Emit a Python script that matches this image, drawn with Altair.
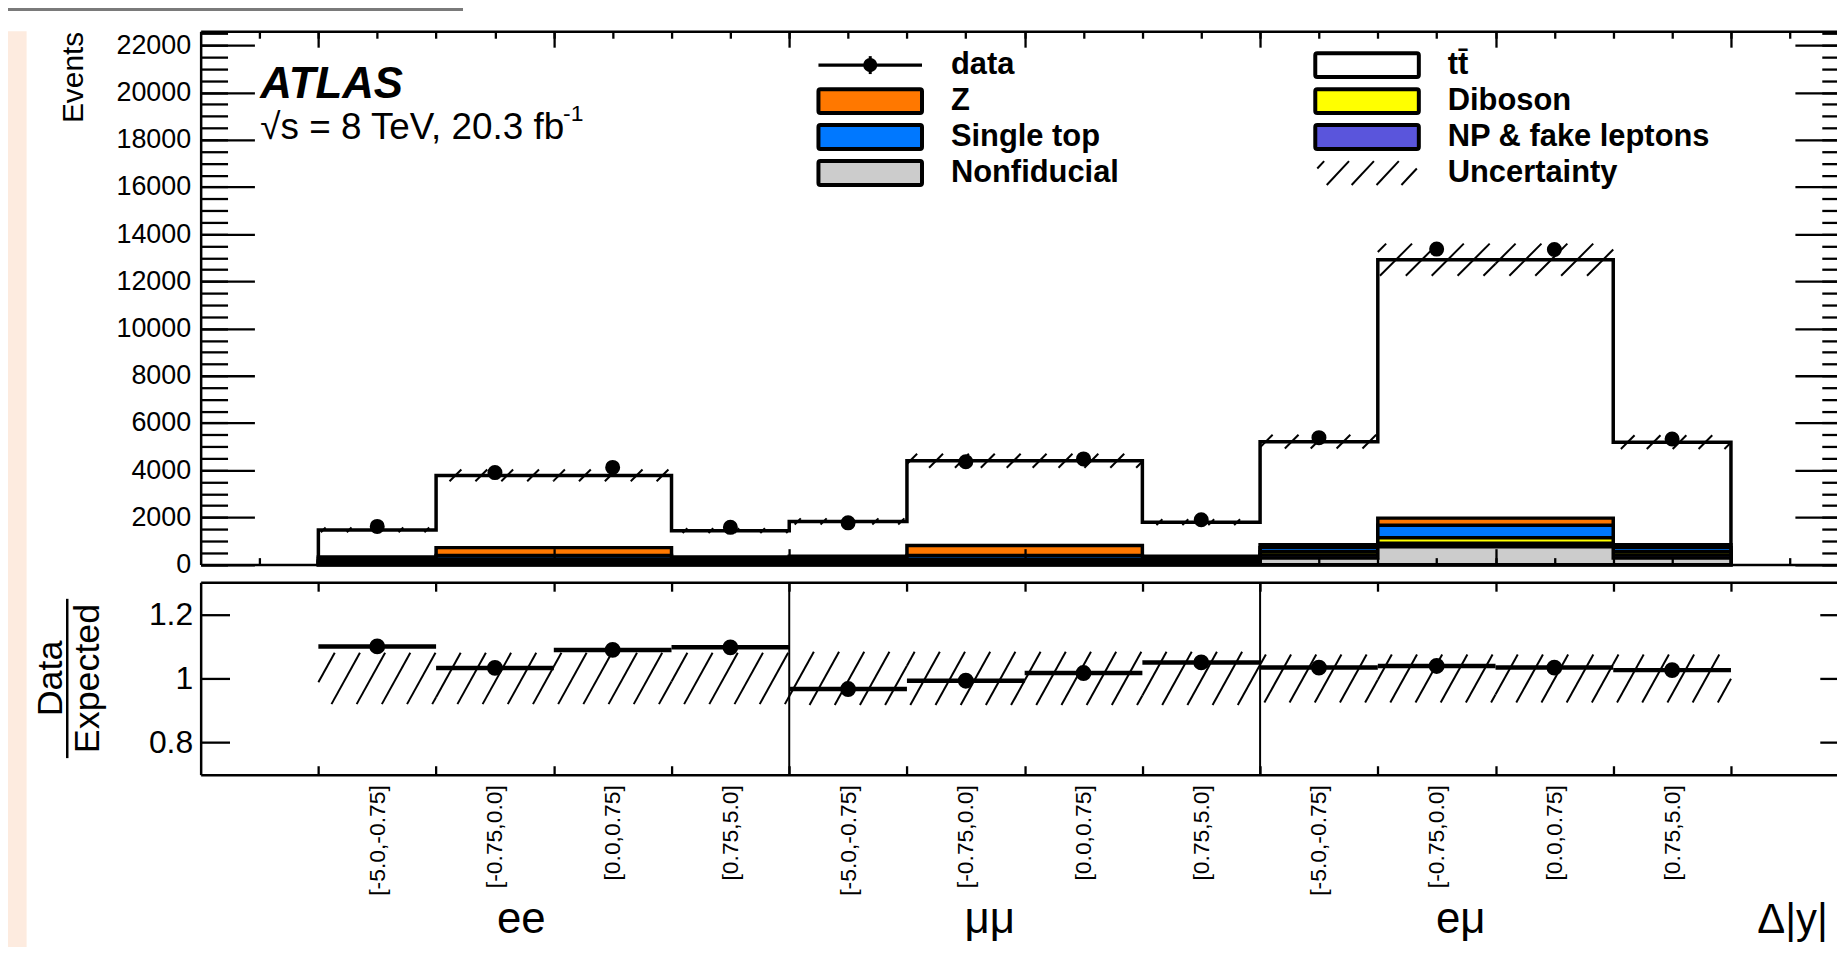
import math
import altair as alt
import numpy as np
import pandas as pd

# ---------------- values ----------------
bin_labels = ["[-5.0,-0.75]", "[-0.75,0.0]", "[0.0,0.75]", "[0.75,5.0]",
              "[-5.0,-0.75]", "[-0.75,0.0]", "[0.0,0.75]", "[0.75,5.0]",
              "[-5.0,-0.75]", "[-0.75,0.0]", "[0.0,0.75]", "[0.75,5.0]"]
channel_names = ["ee", "μμ", "eμ"]
bin_edges = [1, 2, 3, 4, 5, 6, 7, 8, 9, 10, 11, 12, 13]

data_events = [1620, 3900, 4120, 1580, 1770, 4360, 4480, 1900, 5380, 13370, 13350, 5320]
ttbar       = [1150, 3060, 3060, 1120, 1470, 3590, 3590, 1440, 4370, 10950, 10950, 4350]
z_jets      = [60, 330, 330, 60, 90, 420, 420, 90, 120, 300, 300, 120]
single_top  = [100, 150, 150, 100, 110, 160, 160, 110, 170, 530, 530, 170]
diboson     = [40, 50, 50, 40, 40, 50, 50, 40, 140, 230, 230, 140]
np_fake     = [40, 60, 60, 40, 30, 40, 40, 30, 130, 150, 150, 130]
nonfid      = [80, 130, 130, 80, 90, 140, 140, 90, 280, 760, 760, 280]
mc_unc      = [100, 250, 250, 100, 130, 295, 295, 125, 290, 680, 680, 290]
ratio       = [1.100, 1.033, 1.089, 1.097, 0.967, 0.993, 1.017, 1.050, 1.034, 1.039, 1.034, 1.026]
ratio_unc   = [0.080, 0.080, 0.080, 0.080, 0.083, 0.083, 0.083, 0.083, 0.075, 0.075, 0.075, 0.075]

events_major = [0, 2000, 4000, 6000, 8000, 10000, 12000, 14000, 16000, 18000, 20000, 22000]
events_minor = list(range(0, 22501, 500))
ratio_ticks = [0.8, 1.0, 1.2]
top_major_x = [1, 3, 5, 7, 9, 11, 13]
top_minor_x = [0.5 * k for k in range(1, 28)]

legend_entries = [  # label, fill colour, column, row
    ("data", None, 0, 0), ("Z", "#FF7800", 0, 1), ("Single top", "#0078FF", 0, 2),
    ("Nonfiducial", "#CCCCCC", 0, 3), ("t\u0074\u0304", "#FFFFFF", 1, 0),
    ("Diboson", "#FFFF00", 1, 1), ("NP & fake leptons", "#5A55DC", 1, 2),
    ("Uncertainty", None, 1, 3),
]

# ---------------- layout ----------------
FONT = "Liberation Sans"
PLOT_W, PLOT_H = 1643.5, 746.7
PAD = {"left": 193.5, "top": 21.3, "right": 0, "bottom": 171}
PX_PER_BIN = 118.23
X_MAX = PLOT_W / PX_PER_BIN
TOP_MAX = 22600
TOP_Y0 = 535.7
R_MIN, R_MAX = 0.7, 1.3
R_TOP, R_BOT = 553.4, 746.7
GROUP_POS = [2.72, 6.70, 10.70]

xs = alt.Scale(domain=[0, X_MAX], nice=False, zero=False)
ys_top = alt.Scale(domain=[0, TOP_MAX], range=[TOP_Y0, 0], nice=False, zero=False)
ys_rat = alt.Scale(domain=[R_MIN, R_MAX], range=[R_BOT, R_TOP], nice=False, zero=False)

def top_px(v):
    return TOP_Y0 * (1 - v / TOP_MAX)

def top_val(p):
    return TOP_MAX * (1 - p / TOP_Y0)

def rat_px(r):
    return R_BOT - (r - R_MIN) / (R_MAX - R_MIN) * (R_BOT - R_TOP)

def rat_val(p):
    return R_MIN + (R_BOT - p) / (R_BOT - R_TOP) * (R_MAX - R_MIN)

def hatch(rects, angle, spacing):
    """rects in pixel space (xa, xb, ya, yb); returns '/' segments clipped to them."""
    th = math.radians(angle)
    s, c = math.sin(th), math.cos(th)
    step = spacing * s
    segs = []
    for xa, xb, ya, yb in rects:
        k0 = math.ceil((xa * s + ya * c) / step)
        k1 = math.floor((xb * s + yb * c) / step)
        for k in range(k0, k1 + 1):
            cc = k * step
            lo = max(xa, (cc - yb * c) / s)
            hi = min(xb, (cc - ya * c) / s)
            if hi - lo > 0.4:
                segs.append((lo, (cc - lo * s) / c, hi, (cc - hi * s) / c))
    return segs

dummy = pd.DataFrame({"v": [0.0]})
layers = []

# page decoration at the left edge
layers.append(alt.Chart(dummy).mark_rect(color="#FDEBDF").encode(
    x=alt.value(-201.5), x2=alt.value(-174.8), y=alt.value(0), y2=alt.value(930)))
layers.append(alt.Chart(dummy).mark_rule(color="#7A7A7A", strokeWidth=3).encode(
    x=alt.value(-201.5), x2=alt.value(263.5), y=alt.value(-21.8)))

# ---------------- stacked histograms ----------------
stack = [nonfid, np_fake, diboson, single_top, z_jets, ttbar]
stack_colors = ["#CCCCCC", "#5A55DC", "#FFFF00", "#0078FF", "#FF7800", "#FFFFFF"]
cum = np.cumsum(np.array(stack, dtype=float), axis=0)
nb = len(ttbar)
for idx in reversed(range(len(stack))):
    df = pd.DataFrame({"x": bin_edges,
                       "y": [cum[idx][min(i, nb - 1)] for i in range(len(bin_edges))]})
    layers.append(alt.Chart(df).mark_area(
        interpolate="step-after", fill=stack_colors[idx], fillOpacity=1, opacity=1,
        stroke="black", strokeWidth=3.5, strokeJoin="miter").encode(
        x=alt.X("x:Q", scale=xs, axis=None),
        y=alt.Y("y:Q", scale=ys_top, axis=None, stack=None)))

total = cum[-1]
centers = [(bin_edges[i] + bin_edges[i + 1]) / 2 for i in range(nb)]

# uncertainty hatch, top panel
rects = []
for i in range(nb):
    rects.append((bin_edges[i] * PX_PER_BIN, bin_edges[i + 1] * PX_PER_BIN,
                  top_px(total[i] + mc_unc[i]), top_px(total[i] - mc_unc[i])))
segs = hatch(rects, 45, 26)
hdf = pd.DataFrame([{"x": a / PX_PER_BIN, "y": top_val(b), "x2": c / PX_PER_BIN, "y2": top_val(d)}
                    for a, b, c, d in segs])
layers.append(alt.Chart(hdf).mark_rule(color="black", strokeWidth=2).encode(
    x=alt.X("x:Q", scale=xs, axis=None), x2="x2:Q",
    y=alt.Y("y:Q", scale=ys_top, axis=None), y2="y2:Q"))

# data points, top panel
ddf = pd.DataFrame({"x": centers, "y": data_events})
layers.append(alt.Chart(ddf).mark_circle(size=227, color="black", opacity=1).encode(
    x=alt.X("x:Q", scale=xs, axis=None), y=alt.Y("y:Q", scale=ys_top, axis=None)))

# ---------------- ratio panel ----------------
rects = []
for i in range(nb):
    rects.append((bin_edges[i] * PX_PER_BIN, bin_edges[i + 1] * PX_PER_BIN,
                  rat_px(1 + ratio_unc[i]), rat_px(1 - ratio_unc[i])))
segs = hatch(rects, 61, 25.3)
rhdf = pd.DataFrame([{"x": a / PX_PER_BIN, "y": rat_val(b), "x2": c / PX_PER_BIN, "y2": rat_val(d)}
                     for a, b, c, d in segs])
layers.append(alt.Chart(rhdf).mark_rule(color="black", strokeWidth=2).encode(
    x=alt.X("x:Q", scale=xs, axis=None), x2="x2:Q",
    y=alt.Y("y:Q", scale=ys_rat, axis=None), y2="y2:Q"))

sep_df = pd.DataFrame({"x": [bin_edges[4], bin_edges[8]], "y": [R_MIN, R_MIN], "y2": [R_MAX, R_MAX]})
layers.append(alt.Chart(sep_df).mark_rule(color="black", strokeWidth=2).encode(
    x=alt.X("x:Q", scale=xs, axis=None), y=alt.Y("y:Q", scale=ys_rat, axis=None), y2="y2:Q"))

rdf = pd.DataFrame({"lo": bin_edges[:-1], "hi": bin_edges[1:], "c": centers, "r": ratio})
layers.append(alt.Chart(rdf).mark_rule(color="black", strokeWidth=4.5).encode(
    x=alt.X("lo:Q", scale=xs, axis=None), x2="hi:Q", y=alt.Y("r:Q", scale=ys_rat, axis=None)))
layers.append(alt.Chart(rdf).mark_circle(size=254, color="black", opacity=1).encode(
    x=alt.X("c:Q", scale=xs, axis=None), y=alt.Y("r:Q", scale=ys_rat, axis=None)))

# ---------------- axes ----------------
BASE = dict(grid=False, domain=False, ticks=False, labels=False, title=None, zindex=1,
            tickColor="black", tickWidth=2.3, domainColor="black", domainWidth=2.5,
            labelColor="black", labelFont=FONT)

def xaxis(**kw):
    a = dict(BASE); a.update(kw)
    return alt.Chart(dummy).mark_point(opacity=0).encode(
        x=alt.X("v:Q", scale=xs, axis=alt.Axis(**a)))

def yaxis(scale, val, **kw):
    a = dict(BASE); a.update(kw)
    return alt.Chart(pd.DataFrame({"v": [val]})).mark_point(opacity=0).encode(
        y=alt.Y("v:Q", scale=scale, axis=alt.Axis(**a)))

H = PLOT_H
# top panel: top frame + inward ticks
layers.append(xaxis(orient="top", offset=0, domain=True))
layers.append(xaxis(orient="top", offset=-16, ticks=True, tickSize=16, values=top_major_x))
layers.append(xaxis(orient="top", offset=-7, ticks=True, tickSize=7, values=top_minor_x))
# top panel: bottom frame + inward ticks
layers.append(xaxis(orient="bottom", offset=TOP_Y0 - H, domain=True))
layers.append(xaxis(orient="bottom", offset=TOP_Y0 - 16 - H, ticks=True, tickSize=16, values=top_major_x))
layers.append(xaxis(orient="bottom", offset=TOP_Y0 - 7 - H, ticks=True, tickSize=7, values=top_minor_x))
# ratio panel frames + ticks
layers.append(xaxis(orient="top", offset=-R_TOP, domain=True))
layers.append(xaxis(orient="top", offset=-(R_TOP + 9), ticks=True, tickSize=9, values=bin_edges))
layers.append(xaxis(orient="bottom", offset=0, domain=True))
layers.append(xaxis(orient="bottom", offset=-9, ticks=True, tickSize=9, values=bin_edges))

# bin labels
lab_expr = ""
for i in range(nb - 1):
    lab_expr += f"datum.value < {bin_edges[i + 1]} ? '{bin_labels[i]}' : "
lab_expr += f"'{bin_labels[-1]}'"
layers.append(xaxis(orient="bottom", offset=0, labels=True, values=centers, labelExpr=lab_expr,
                    labelAngle=270, labelAlign="right", labelBaseline="middle", tickSize=0,
                    labelPadding=10, labelFontSize=23, labelOverlap=False, labelFlush=False))
# channel labels and axis title
GROUP_PAD = 158
grp_expr = (f"datum.value < {bin_edges[4]} ? '{channel_names[0]}' : "
            f"datum.value < {bin_edges[8]} ? '{channel_names[1]}' : '{channel_names[2]}'")
layers.append(xaxis(orient="bottom", offset=0, labels=True, values=GROUP_POS, labelExpr=grp_expr,
                    labelAngle=0, labelAlign="center", labelBaseline="alphabetic", tickSize=0,
                    labelPadding=GROUP_PAD, labelFontSize=44, labelOverlap=False, labelFlush=False,
                    title="Δ|y|", titleFont=FONT, titleFontSize=42, titleFontWeight="normal",
                    titleColor="black", titleX=1563, titleY=GROUP_PAD, titleAlign="left",
                    titleBaseline="alphabetic", titleAngle=0))

# top panel y axes
layers.append(yaxis(ys_top, 0, orient="left", domain=True))
layers.append(yaxis(ys_top, 0, orient="left", labels=True, values=events_major, format="d",
                    tickSize=0, labelPadding=10, labelFontSize=27, labelOverlap=False,
                    labelFlush=False,
                    title="Events", titleFont=FONT, titleFontSize=30, titleFontWeight="normal",
                    titleColor="black", titleAngle=270, titleAlign="right",
                    titleBaseline="alphabetic", titleX=-118.5, titleY=0))
layers.append(yaxis(ys_top, 0, orient="left", offset=-54, ticks=True, tickSize=54, values=events_major))
layers.append(yaxis(ys_top, 0, orient="left", offset=-27, ticks=True, tickSize=27, values=events_minor))
RIGHT_FRAME = 14 * PX_PER_BIN
layers.append(yaxis(ys_top, 0, orient="right", offset=RIGHT_FRAME - 54 - PLOT_W, ticks=True,
                    tickSize=54, values=events_major))
layers.append(yaxis(ys_top, 0, orient="right", offset=RIGHT_FRAME - 27 - PLOT_W, ticks=True,
                    tickSize=27, values=events_minor))
# ratio y axes
layers.append(yaxis(ys_rat, 1.0, orient="left", domain=True))
layers.append(yaxis(ys_rat, 1.0, orient="left", labels=True, values=ratio_ticks, format="~g",
                    tickSize=0, labelPadding=8, labelFontSize=32, labelOverlap=False,
                    labelFlush=False))
layers.append(yaxis(ys_rat, 1.0, orient="left", offset=-29, ticks=True, tickSize=29, values=ratio_ticks))
layers.append(yaxis(ys_rat, 1.0, orient="right", offset=RIGHT_FRAME - 29 - PLOT_W, ticks=True,
                    tickSize=29, values=ratio_ticks))

# ratio axis title (fraction)
R_MID = rat_px(1.0)
layers.append(alt.Chart(dummy).mark_text(text="Data", font=FONT, fontSize=36, angle=270,
                                         align="center", baseline="alphabetic", color="black").encode(
    x=alt.value(-139.5), y=alt.value(R_MID)))
layers.append(alt.Chart(dummy).mark_text(text="Expected", font=FONT, fontSize=36, angle=270,
                                         align="center", baseline="alphabetic", color="black").encode(
    x=alt.value(-102.5), y=alt.value(R_MID)))
layers.append(alt.Chart(dummy).mark_rule(color="black", strokeWidth=2.5).encode(
    x=alt.value(-134), y=alt.value(R_MID - 80), y2=alt.value(R_MID + 80)))

# ATLAS labels
layers.append(alt.Chart(dummy).mark_text(text="ATLAS", font=FONT, fontSize=44, fontWeight="bold",
                                         fontStyle="italic", align="left", baseline="alphabetic",
                                         color="black").encode(x=alt.value(59.9), y=alt.value(67.4)))
layers.append(alt.Chart(dummy).mark_text(text="√s = 8 TeV, 20.3 fb", font=FONT, fontSize=37,
                                         align="left", baseline="alphabetic", color="black").encode(
    x=alt.value(59.9), y=alt.value(108.7)))
layers.append(alt.Chart(dummy).mark_text(text="-1", font=FONT, fontSize=23, align="left",
                                         baseline="alphabetic", color="black").encode(
    x=alt.value(364), y=alt.value(90)))

# ---------------- legend ----------------
COL_BOX = [620.5, 1119.5]
BOX_W, BOX_H = 104, 24
ROW_Y = [34, 70.2, 106.2, 142.4]
TEXT_DX = 133
boxes, texts = [], []
for label, colr, col, row in legend_entries:
    x0 = COL_BOX[col]
    texts.append({"tx": x0 + TEXT_DX, "ty": ROW_Y[row], "label": label})
    if colr is not None:
        boxes.append({"x": x0, "x2": x0 + BOX_W, "y": ROW_Y[row] - BOX_H / 2,
                      "y2": ROW_Y[row] + BOX_H / 2, "fill": colr})
layers.append(alt.Chart(pd.DataFrame(boxes)).mark_rect(stroke="black", strokeWidth=4,
                                                       cornerRadius=2).encode(
    x=alt.X("x:Q", scale=None), x2="x2:Q", y=alt.Y("y:Q", scale=None), y2="y2:Q",
    fill=alt.Fill("fill:N", scale=None)))
layers.append(alt.Chart(pd.DataFrame(texts)).mark_text(font=FONT, fontSize=31, fontWeight="bold",
                                                       align="left", baseline="middle",
                                                       color="black").encode(
    x=alt.X("tx:Q", scale=None), y=alt.Y("ty:Q", scale=None), text="label:N"))
# data symbol
sym = pd.DataFrame({"x": [COL_BOX[0]], "x2": [COL_BOX[0] + BOX_W], "xc": [COL_BOX[0] + BOX_W / 2],
                    "y": [ROW_Y[0]], "ya": [ROW_Y[0] - 9], "yb": [ROW_Y[0] + 9]})
layers.append(alt.Chart(sym).mark_rule(color="black", strokeWidth=3.3).encode(
    x=alt.X("x:Q", scale=None), x2="x2:Q", y=alt.Y("y:Q", scale=None)))
layers.append(alt.Chart(sym).mark_rule(color="black", strokeWidth=3).encode(
    x=alt.X("xc:Q", scale=None), y=alt.Y("ya:Q", scale=None), y2="yb:Q"))
layers.append(alt.Chart(sym).mark_circle(size=200, color="black", opacity=1).encode(
    x=alt.X("xc:Q", scale=None), y=alt.Y("y:Q", scale=None)))
# uncertainty symbol
lx0 = COL_BOX[1]
lsegs = hatch([(lx0 + 2, lx0 + BOX_W - 2, ROW_Y[3] - 12, ROW_Y[3] + 12)], 47, 25)
ldf = pd.DataFrame([{"x": a, "y": b, "x2": c, "y2": d} for a, b, c, d in lsegs])
layers.append(alt.Chart(ldf).mark_rule(color="black", strokeWidth=2).encode(
    x=alt.X("x:Q", scale=None), x2="x2:Q", y=alt.Y("y:Q", scale=None), y2="y2:Q"))

chart = alt.layer(*layers).resolve_scale(y="independent").resolve_axis(
    x="independent", y="independent").properties(
    width=PLOT_W, height=PLOT_H, autosize=alt.AutoSizeParams(type="none"), padding=PAD,
    background="white").configure_view(strokeWidth=0)

chart.save("out.html", embed_options={"renderer": "svg", "actions": False})
